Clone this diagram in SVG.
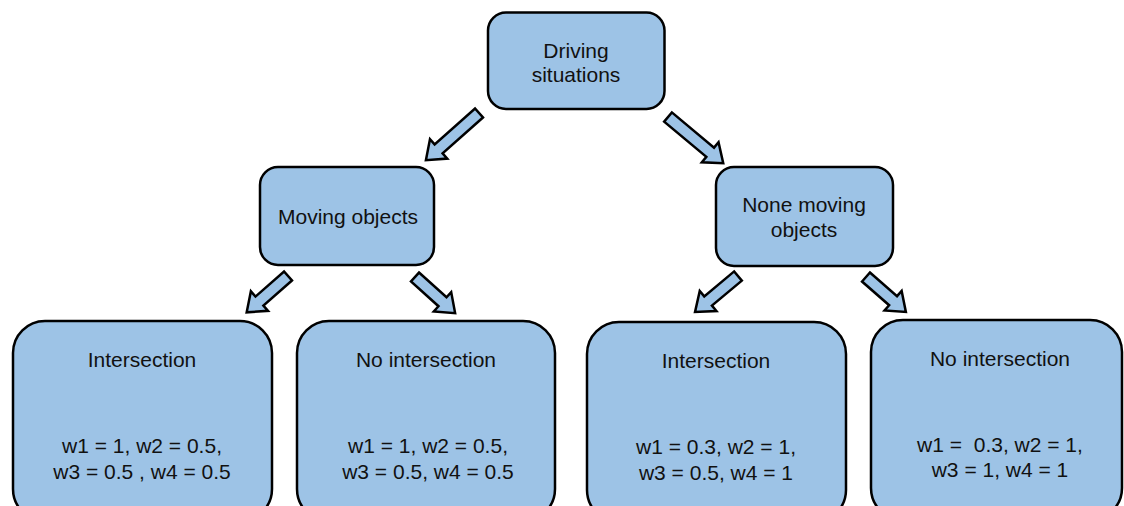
<svg xmlns="http://www.w3.org/2000/svg" width="1124" height="506" viewBox="0 0 1124 506">
  <style>
    .box { fill: #9dc3e6; stroke: #000; stroke-width: 2.5; }
    .arrow { fill: #9dc3e6; stroke: #000; stroke-width: 2.5; stroke-linejoin: miter; }
    text { font-family: "Liberation Sans", Arial, sans-serif; font-size: 21px; fill: #111; text-anchor: middle; }
  </style>
  <rect width="1124" height="506" fill="#fff"/>

  <!-- block arrows: drawn along +x from the tail, then rotated into place -->
  <g id="connectors">
    <polygon class="arrow" transform="translate(479,113) rotate(138.4)" points="0,-6 54,-6 54,-13 71,0 54,13 54,6 0,6"/>
    <polygon class="arrow" transform="translate(668,117) rotate(39.9)" points="0,-6 55,-6 55,-13 72,0 55,13 55,6 0,6"/>
    <polygon class="arrow" transform="translate(288,276) rotate(138.7)" points="0,-6 38,-6 38,-13 55,0 38,13 38,6 0,6"/>
    <polygon class="arrow" transform="translate(415,277) rotate(42)" points="0,-6 37,-6 37,-13 54,0 37,13 37,6 0,6"/>
    <polygon class="arrow" transform="translate(738,276) rotate(140.1)" points="0,-6 39,-6 39,-13 56,0 39,13 39,6 0,6"/>
    <polygon class="arrow" transform="translate(866,277) rotate(41.2)" points="0,-6 36,-6 36,-13 53,0 36,13 36,6 0,6"/>
  </g>

  <g id="driving-situations">
    <rect class="box" x="488" y="12.5" width="176.5" height="96.5" rx="18"/>
    <text x="576" y="58">Driving</text>
    <text x="576" y="82">situations</text>
  </g>

  <g id="moving-objects">
    <rect class="box" x="260" y="167" width="174" height="98" rx="18"/>
    <text x="348" y="224">Moving objects</text>
  </g>

  <g id="none-moving-objects">
    <rect class="box" x="716" y="167" width="177" height="99" rx="18"/>
    <text x="804" y="212">None moving</text>
    <text x="804" y="237">objects</text>
  </g>

  <g id="moving-intersection">
    <rect class="box" x="13" y="321" width="259" height="200" rx="32"/>
    <text x="142" y="367">Intersection</text>
    <text x="142" y="453">w1 = 1, w2 = 0.5,</text>
    <text x="142" y="479">w3 = 0.5 , w4 = 0.5</text>
  </g>

  <g id="moving-no-intersection">
    <rect class="box" x="297" y="321" width="258" height="200" rx="32"/>
    <text x="426" y="367">No intersection</text>
    <text x="428" y="453">w1 = 1, w2 = 0.5,</text>
    <text x="428" y="479">w3 = 0.5, w4 = 0.5</text>
  </g>

  <g id="static-intersection">
    <rect class="box" x="587" y="322" width="259" height="200" rx="32"/>
    <text x="716" y="368">Intersection</text>
    <text x="716" y="454">w1 = 0.3, w2 = 1,</text>
    <text x="716" y="480">w3 = 0.5, w4 = 1</text>
  </g>

  <g id="static-no-intersection">
    <rect class="box" x="871" y="320" width="251" height="200" rx="32"/>
    <text x="1000" y="366">No intersection</text>
    <text x="1000" y="452" xml:space="preserve">w1 =  0.3, w2 = 1,</text>
    <text x="1000" y="477">w3 = 1, w4 = 1</text>
  </g>
</svg>
